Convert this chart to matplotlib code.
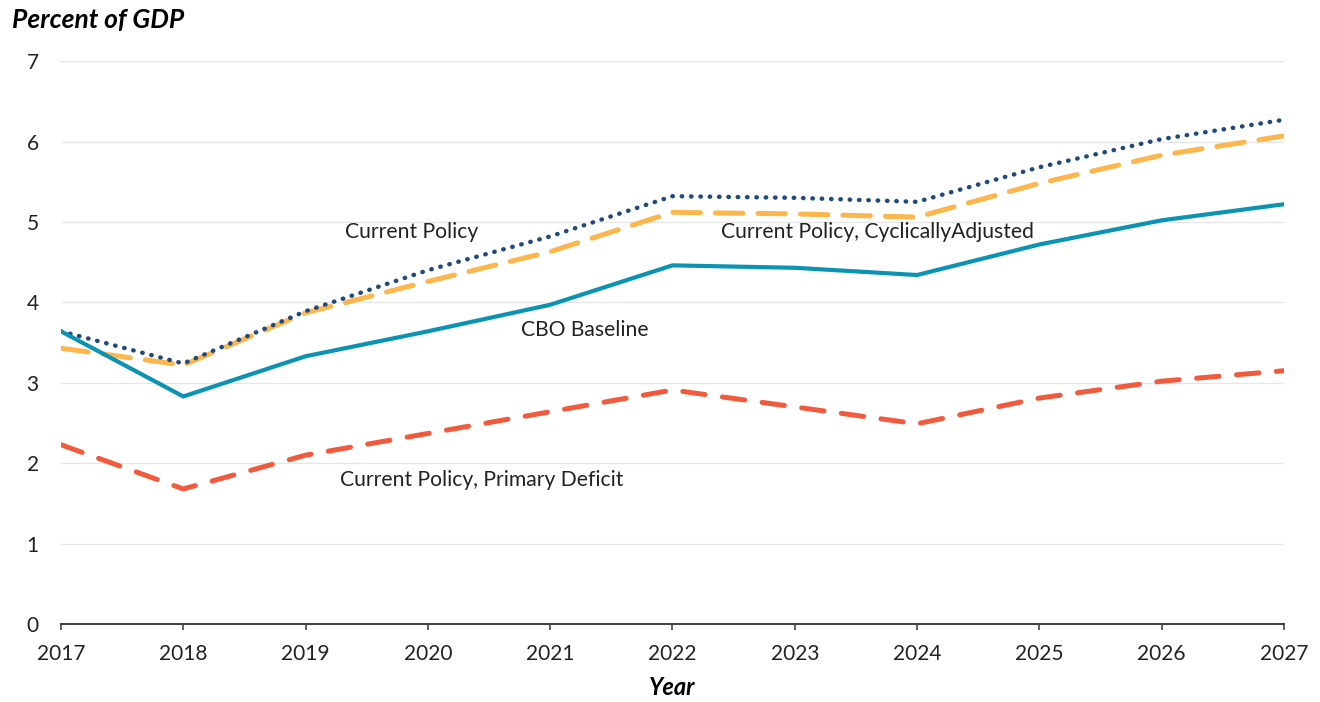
import numpy as np
import matplotlib.pyplot as plt

plt.rcParams['font.family'] = ['Lato', 'DejaVu Sans']

years = list(range(2017, 2028))
cbo_baseline = [3.64, 2.83, 3.33, 3.64, 3.97, 4.46, 4.43, 4.34, 4.72, 5.02, 5.22]
current_policy = [3.64, 3.24, 3.89, 4.40, 4.82, 5.32, 5.30, 5.25, 5.68, 6.03, 6.27]
cyc_adjusted = [3.43, 3.22, 3.87, 4.26, 4.63, 5.12, 5.10, 5.06, 5.48, 5.83, 6.07]
primary_deficit = [2.23, 1.68, 2.10, 2.37, 2.64, 2.91, 2.70, 2.49, 2.81, 3.02, 3.15]

fig = plt.figure(figsize=(13.2, 7.02), dpi=100)
ax = fig.add_axes([0.0462, 0.111, 0.9265, 0.802])

# series
ax.plot(years, primary_deficit, color='#f15a3d', lw=3.6, dashes=(4.5, 3.5),
        dash_capstyle='round')
ax.plot(years, cyc_adjusted, color='#fdb64c', lw=3.6, dashes=(5.5, 3.0),
        dash_capstyle='round')
ax.plot(years, current_policy, color='#1f4a7c', lw=3.2, dashes=(0.1, 2.0),
        dash_capstyle='round')
ax.plot(years, cbo_baseline, color='#0b93b4', lw=3.0)

# inline labels
lab = dict(fontsize=15.2, color='#222222', va='center', ha='left')
ax.text(2019.32, 4.87, 'Current Policy', **lab)
ax.text(2022.40, 4.87, 'Current Policy, CyclicallyAdjusted', **lab)
ax.text(2020.76, 3.66, 'CBO Baseline', **lab)
ax.text(2019.28, 1.79, 'Current Policy, Primary Deficit', **lab)

ax.set_xlim(2017, 2027)
ax.set_ylim(0, 7)
ax.set_xticks(years)
ax.set_yticks(range(0, 8))
ax.grid(axis='y', color='#e6e6e6', lw=1)
ax.set_axisbelow(True)
for s in ['top', 'right', 'left']:
    ax.spines[s].set_visible(False)
ax.spines['bottom'].set_color('#444444')
ax.spines['bottom'].set_linewidth(1.5)
ax.tick_params(axis='y', length=0, pad=16, labelsize=15, labelcolor='#222222')
ax.tick_params(axis='x', length=4, width=1.2, color='#444444', pad=10,
               labelsize=15, labelcolor='#222222')

ax.set_xlabel('Year', fontsize=17, fontweight='bold', style='italic', labelpad=9)
fig.text(0.009, 0.972, 'Percent of GDP', fontsize=19, fontweight='bold',
         style='italic', va='center', ha='left')

fig.savefig('out.png', dpi=100, facecolor='white')
